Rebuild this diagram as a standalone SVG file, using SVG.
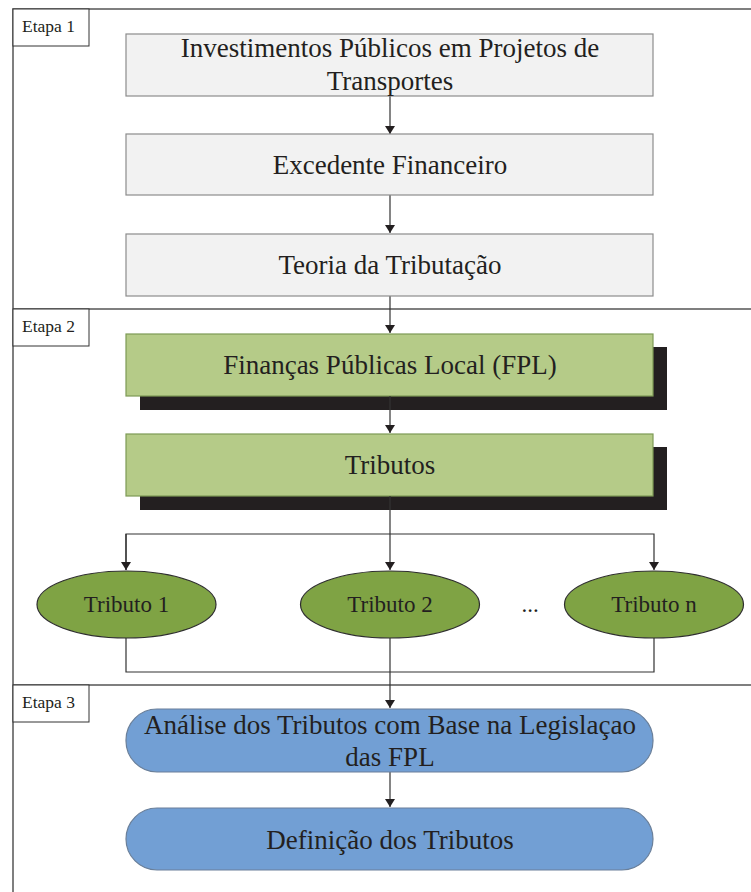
<svg xmlns="http://www.w3.org/2000/svg" width="751" height="892" viewBox="0 0 751 892">
<style>
text{font-family:"Liberation Serif","Times New Roman",serif;fill:#231f20;text-anchor:middle}
.t{font-size:27px}
.e{font-size:23px}
.lab{font-size:17.5px;text-anchor:start}
.gray{fill:#f2f2f2;stroke:#8c8c8c;stroke-width:1.2}
.green{fill:#b5cb88;stroke:#7d9a55;stroke-width:1.2}
.shadow{fill:#231f20}
.oval{fill:#7fa344;stroke:#2e2e2e;stroke-width:1.2}
.blue{fill:#729fd4;stroke:#6a7f99;stroke-width:1.2}
.frame{fill:none;stroke:#555;stroke-width:1.5}
.labbox{fill:#fff;stroke:#333;stroke-width:1}
.c{fill:none;stroke:#333;stroke-width:1.2}
</style>
<defs>
<marker id="ah" markerWidth="8" markerHeight="10" refX="8" refY="5" orient="auto" markerUnits="userSpaceOnUse">
<path d="M0,0 L8,5 L0,10 Z" fill="#231f20"/>
</marker>
</defs>
<rect width="751" height="892" fill="#fff"/>
<g id="frame">
<path class="frame" d="M751,9 H13 V892"/>
<path class="frame" d="M13,309 H751"/>
<path class="frame" d="M13,685 H751"/>
</g>
<g id="etapa1"><rect class="labbox" x="13" y="9" width="76" height="37"/><text class="lab" x="22" y="32">Etapa 1</text></g>
<g id="etapa2"><rect class="labbox" x="13" y="309" width="76" height="37"/><text class="lab" x="22" y="332">Etapa 2</text></g>
<g id="etapa3"><rect class="labbox" x="13" y="685" width="76" height="37"/><text class="lab" x="22" y="708">Etapa 3</text></g>
<g id="connectors">
<line class="c" x1="390" y1="96" x2="390" y2="134" marker-end="url(#ah)"/>
<line class="c" x1="390" y1="195" x2="390" y2="233" marker-end="url(#ah)"/>
<line class="c" x1="390" y1="296" x2="390" y2="333" marker-end="url(#ah)"/>
<line class="c" x1="390" y1="396" x2="390" y2="433" marker-end="url(#ah)"/>
<line class="c" x1="390" y1="496" x2="390" y2="570" marker-end="url(#ah)"/>
<path class="c" d="M126,570 V534 H654 V570" marker-end="url(#ah)"/>
<line class="c" x1="126" y1="534" x2="126" y2="570" marker-end="url(#ah)"/>
<path class="c" d="M126,638 V672 H654 V638"/>
<line class="c" x1="390" y1="638" x2="390" y2="708" marker-end="url(#ah)"/>
<line class="c" x1="390" y1="772" x2="390" y2="807" marker-end="url(#ah)"/>
</g>
<g id="n1"><rect class="gray" x="126" y="34" width="527" height="62"/><text class="t" x="390" y="57">Investimentos Públicos em Projetos de</text><text class="t" x="390" y="90">Transportes</text></g>
<g id="n2"><rect class="gray" x="126" y="134" width="527" height="61"/><text class="t" x="390" y="174">Excedente Financeiro</text></g>
<g id="n3"><rect class="gray" x="126" y="234" width="527" height="62"/><text class="t" x="390" y="274">Teoria da Tributação</text></g>
<g id="n4"><rect class="shadow" x="140" y="347" width="527" height="63"/><rect class="green" x="126" y="334" width="527" height="62"/><line class="c" x1="390" y1="396" x2="390" y2="410"/><text class="t" x="390" y="374">Finanças Públicas Local (FPL)</text></g>
<g id="n5"><rect class="shadow" x="140" y="447" width="527" height="63"/><rect class="green" x="126" y="434" width="527" height="62"/><line class="c" x1="390" y1="496" x2="390" y2="510"/><text class="t" x="390" y="474">Tributos</text></g>
<g id="t1"><ellipse class="oval" cx="126.5" cy="604.5" rx="89.5" ry="33.5"/><text class="e" x="126.5" y="612">Tributo 1</text></g>
<g id="t2"><ellipse class="oval" cx="390" cy="604.5" rx="89.5" ry="33.5"/><text class="e" x="390" y="612">Tributo 2</text></g>
<g id="dots"><text class="e" x="530" y="612">...</text></g>
<g id="tn"><ellipse class="oval" cx="654" cy="604.5" rx="89.5" ry="33.5"/><text class="e" x="654" y="612">Tributo n</text></g>
<g id="n6"><rect class="blue" x="126" y="709" width="527" height="63" rx="31" ry="31"/><text class="t" x="390" y="734">Análise dos Tributos com Base na Legislaçao</text><text class="t" x="390" y="766">das FPL</text></g>
<g id="n7"><rect class="blue" x="126" y="808" width="527" height="62" rx="31" ry="31"/><text class="t" x="390" y="849">Definição dos Tributos</text></g>
</svg>
